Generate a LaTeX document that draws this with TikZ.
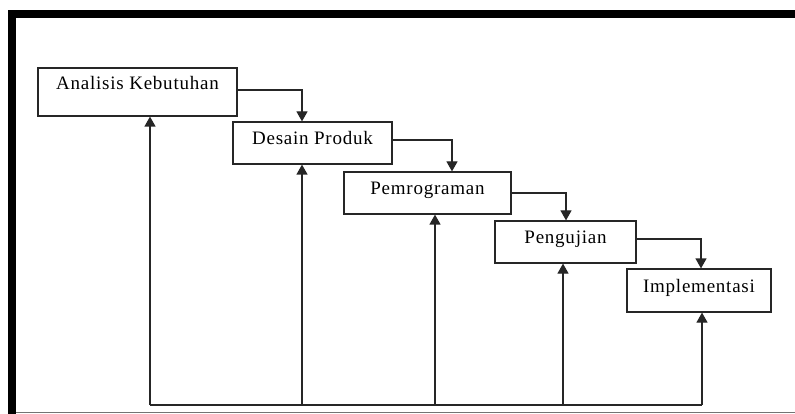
\documentclass[tikz,border=0pt]{standalone}
\usepackage{fontspec}
\setmainfont{Liberation Serif}[LetterSpace=4]
\usetikzlibrary{arrows.meta}

\begin{document}
\begin{tikzpicture}[x=1pt, y=-1pt,
  stagebox/.style={draw=black!85, line width=1.2pt, rectangle, inner sep=0pt,
    minimum height=42pt, text height=12pt, text depth=8.4pt,
    font=\fontsize{19}{22}\selectfont},
  flow/.style={draw=black!85, line width=1.2pt,
    -{Triangle[width=11pt,length=10pt]}},
  plainline/.style={draw=black!85, line width=1.2pt}]

\useasboundingbox (0,0) rectangle (795,414);

% page frame: heavy top and left rules, thin bottom rule
\fill[black] (8,10) rectangle (795,18);
\fill[black] (8,10) rectangle (16,414);
\draw[black!55, line width=1pt] (16,412.5) -- (795,412.5);

% waterfall stages
\node[stagebox, minimum width=199pt, minimum height=48pt, text depth=17.4pt]
  (ak) at (137.5,92) {Analisis Kebutuhan};
\node[stagebox, minimum width=159pt] (ds) at (312.5,143) {Desain Produk};
\node[stagebox, minimum width=167pt] (pg) at (427.5,193) {Pemrograman};
\node[stagebox, minimum width=141pt] (pj) at (565.5,242) {Pengujian};
\node[stagebox, minimum width=144pt, minimum height=43pt] (im) at (699,290.5) {Implementasi};

% forward flow between stages
\draw[flow] ([yshift=2pt]ak.east) -| ([xshift=-10.5pt]ds.north);
\draw[flow] ([yshift=3pt]ds.east) -| ([xshift=24.5pt]pg.north);
\draw[flow] (pg.east) -| ([xshift=0.5pt]pj.north);
\draw[flow] ([yshift=3pt]pj.east) -| ([xshift=2pt]im.north);

% feedback line along the bottom
\coordinate (b1) at ([xshift=12.5pt]ak.south |- 0,405);
\coordinate (b2) at ([xshift=-10.5pt]ds.south |- 0,405);
\coordinate (b3) at ([xshift=7.5pt]pg.south |- 0,405);
\coordinate (b4) at ([xshift=-2.5pt]pj.south |- 0,405);
\coordinate (b5) at ([xshift=3pt]im.south |- 0,405);

\draw[plainline] (b1) -- (b5);
\draw[flow] (b1) -- (b1 |- ak.south);
\draw[flow] (b2) -- (b2 |- ds.south);
\draw[flow] (b3) -- (b3 |- pg.south);
\draw[flow] (b4) -- (b4 |- pj.south);
\draw[flow] (b5) -- (b5 |- im.south);

\end{tikzpicture}
\end{document}
